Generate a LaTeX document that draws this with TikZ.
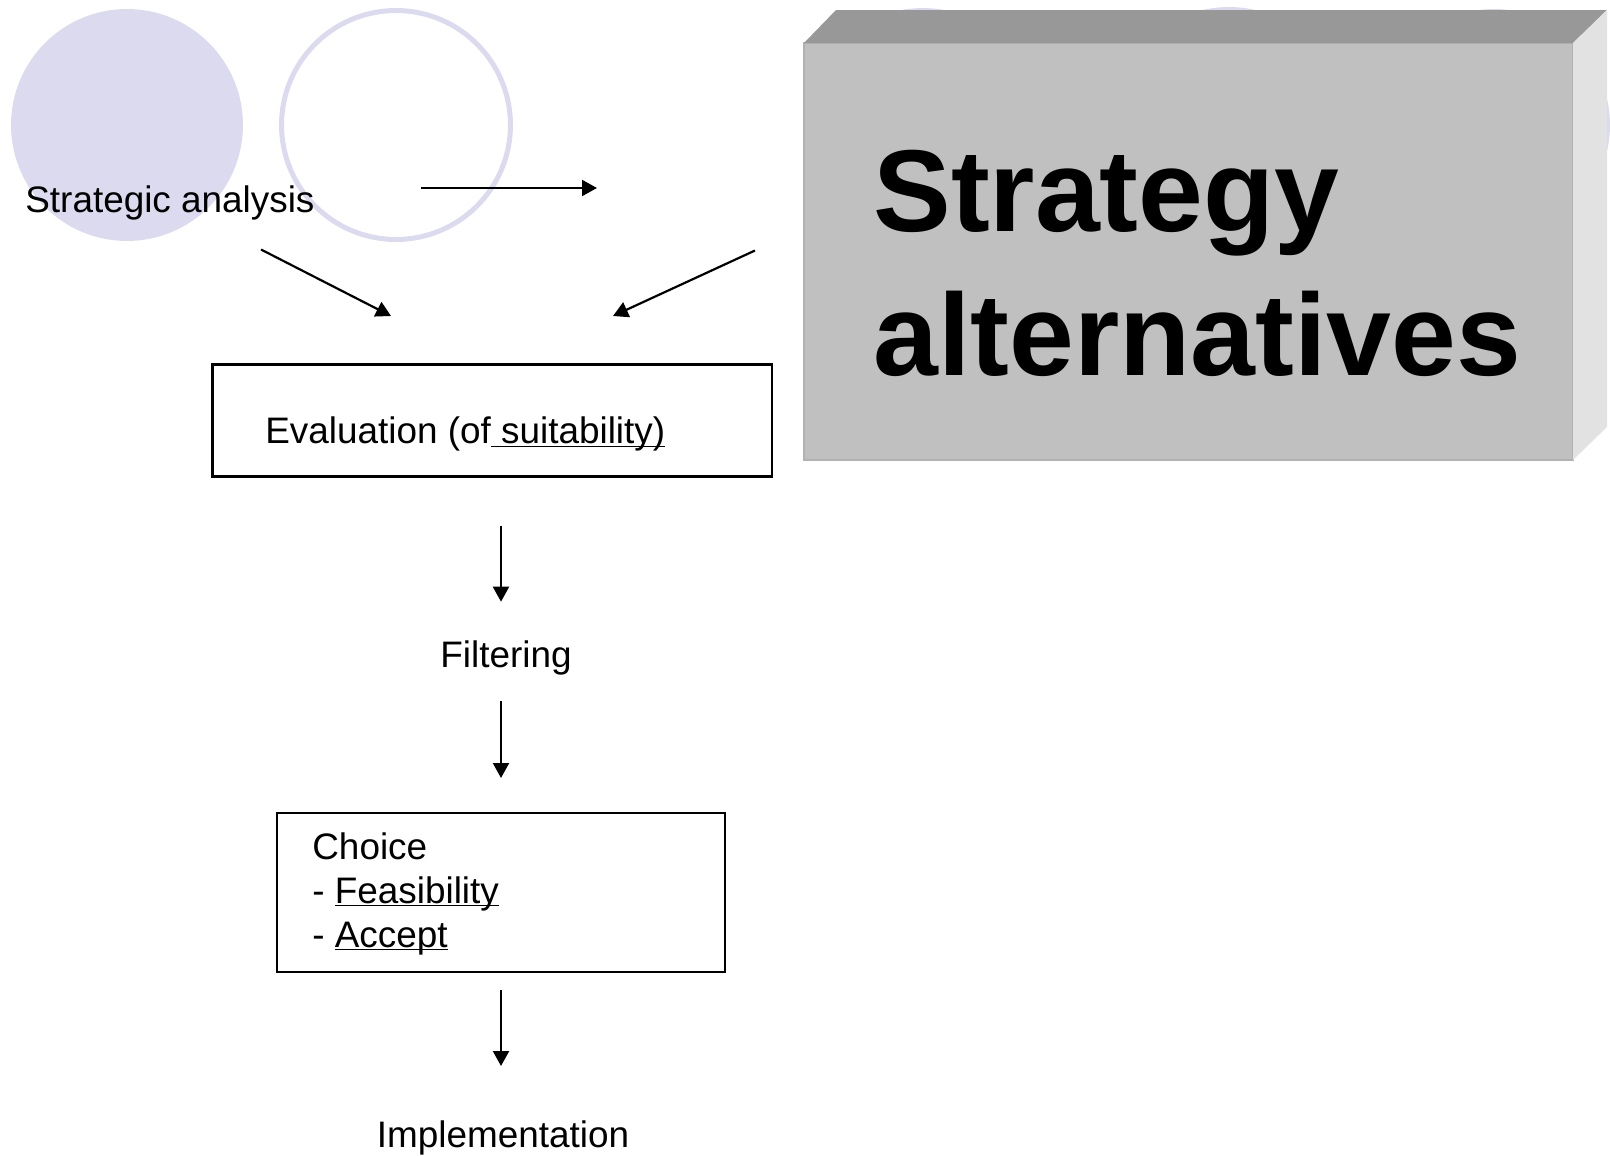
\documentclass[tikz,border=0pt]{standalone}
\usepackage{fontspec}
\setmainfont{Liberation Sans}
\usetikzlibrary{arrows.meta}

\definecolor{lavender}{RGB}{220,218,238}
\definecolor{frontgray}{RGB}{192,192,192}
\definecolor{topgray}{RGB}{152,152,152}
\definecolor{sidegray}{RGB}{226,226,226}

\tikzset{
  flowarrow/.style={line width=1.25pt,-{Triangle[length=0.3cm,width=0.32cm]}},
  framebox/.style={draw,line width=1.4pt,inner sep=0pt},
  label/.style={inner sep=0pt,font=\fontsize{21}{25}\selectfont},
}

\begin{document}
\begin{tikzpicture}[x=0.02cm,y=-0.02cm]
\useasboundingbox (0,0) rectangle (1610,1156);

% Circles
\fill[lavender] (127,125) circle[radius=2.32cm];
\draw[lavender,line width=0.1cm] (396,125) circle[radius=2.29cm];
\fill[lavender] (923,124) circle[radius=2.32cm];
\draw[lavender,line width=0.1cm] (1229,124) circle[radius=2.29cm];
\fill[lavender] (1494,125) circle[radius=2.32cm];

% Box
\fill[frontgray,draw=black!30,line width=0.6pt]
(804,43)
rectangle
(1573,460);

\fill[topgray]
(804,43)
--
(836,10)
--
(1607,10)
--
(1573,43)
-- cycle;

\fill[sidegray]
(1573,43)
--
(1607,10)
--
(1607,427)
--
(1573,460)
-- cycle;

\node[anchor=base west,align=left,inner sep=0pt,
      font=\fontsize{66.3}{81.6}\selectfont\bfseries]
  (alternatives) at (873,375) {Strategy\\alternatives};

% Analysis
\node[label,anchor=base west] (analysis) at (25,212.5) {Strategic analysis};

\coordinate (analysisout) at (421,188);
\coordinate (alternativesin) at (597,188);
\draw[flowarrow] (analysisout) -- (alternativesin);

\coordinate (analysisdown) at (261,249.5);
\coordinate (evalleft) at (391,316);
\draw[flowarrow] (analysisdown) -- (evalleft);

\coordinate (alternativesdown) at (755,250.5);
\coordinate (evalright) at (613,316);
\draw[flowarrow] (alternativesdown) -- (evalright);

% Evaluation
\node[framebox,minimum width=11.19cm,minimum height=2.24cm]
  (evalbox) at (492.25,420.5) {};
\node[label,anchor=base west] (evaltext) at (265,443.6)
  {Evaluation (of\underline{\smash{ suitability)}}};

\coordinate (evalout) at (501,525.7);
\coordinate (filterin) at (501,601.7);
\draw[flowarrow] (evalout) -- (filterin);

% Filtering
\node[label,anchor=base] (filtering) at (506,667) {Filtering};

\coordinate (filterout) at (501,701);
\coordinate (choicein) at (501,778);
\draw[flowarrow] (filterout) -- (choicein);

% Choice
\node[framebox,minimum width=8.96cm,minimum height=3.18cm]
  (choicebox) at (501,892.5) {};
\node[label,anchor=base west,align=left] (choicetext) at (312,947)
  {Choice\\- \underline{\smash{Feasibility}}\\- \underline{\smash{Accept}}};

\coordinate (choiceout) at (501,990);
\coordinate (implin) at (501,1066);
\draw[flowarrow] (choiceout) -- (implin);

% Implementation
\node[label,anchor=base] (implementation) at (503,1147) {Implementation};

\end{tikzpicture}
\end{document}
